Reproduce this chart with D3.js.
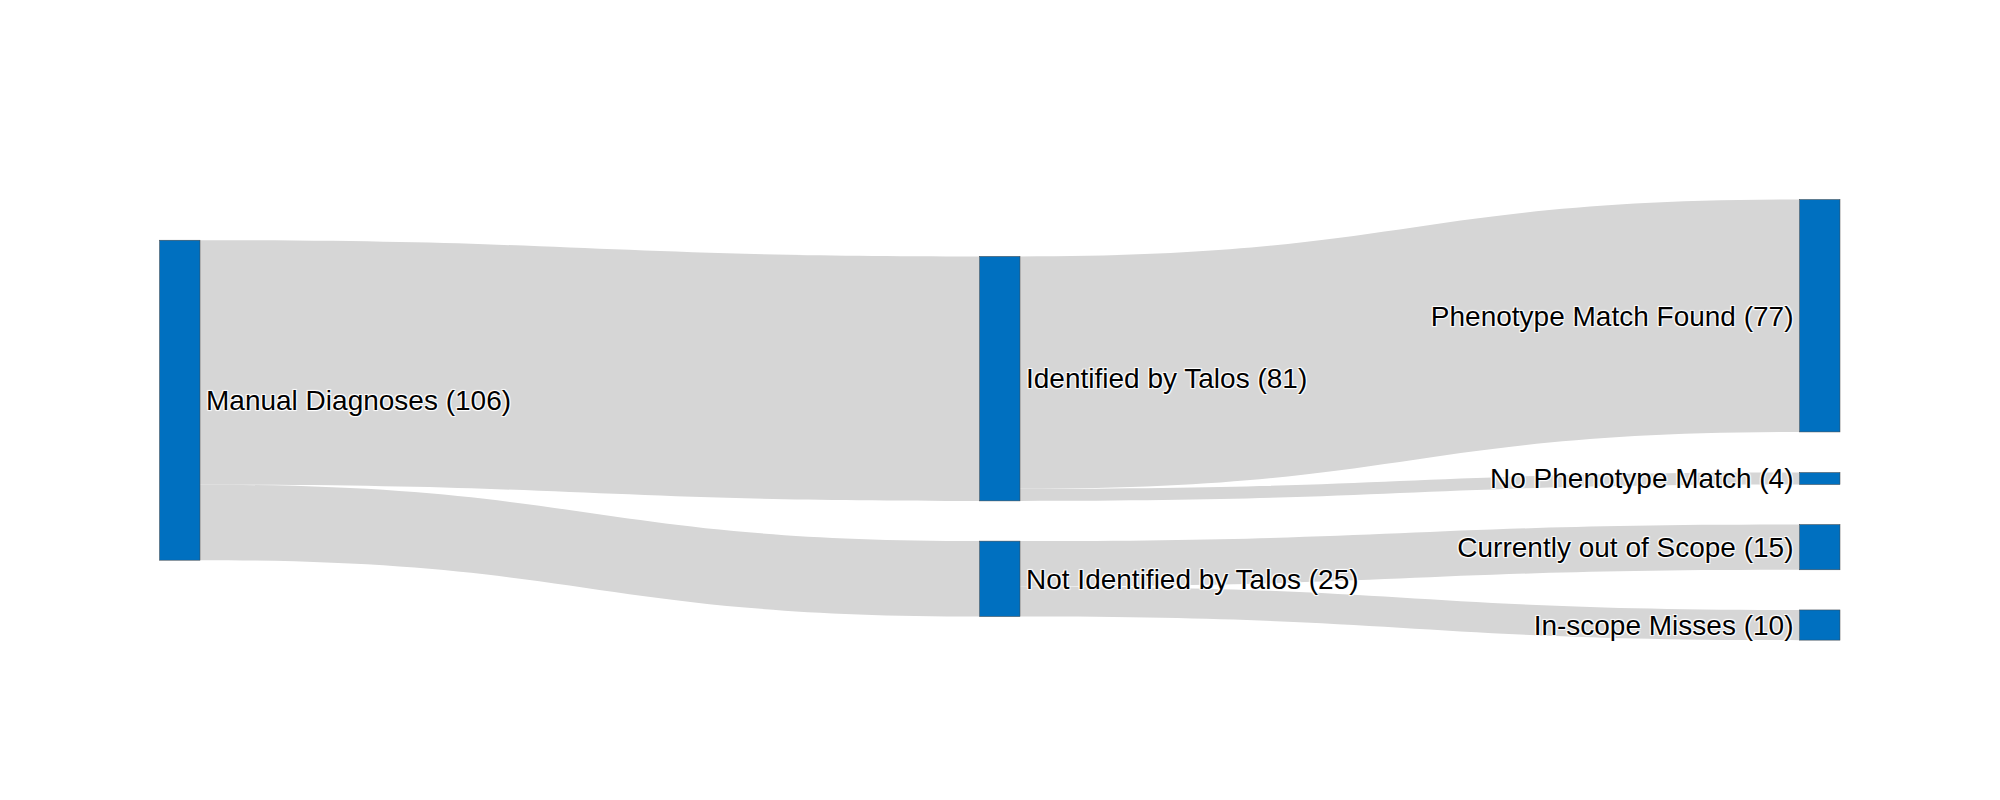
<!DOCTYPE html>
<html>
<head>
<meta charset="utf-8">
<script src="https://cdn.jsdelivr.net/npm/d3@7"></script>
<style>
  html, body { margin: 0; padding: 0; background: #fff; }
  svg { display: block; }
  .node-label {
    font-family: "Liberation Sans", Arial, sans-serif;
    font-size: 28px;
    fill: #000;
    text-shadow: 1px 1px 1px #fff, -1px -1px 1px #fff, 1px -1px 1px #fff, -1px 1px 1px #fff;
  }
</style>
</head>
<body>
<div id="chart"></div>
<script>
// ---- data ----
const nodeNames = [
  "Manual Diagnoses",
  "Identified by Talos",
  "Not Identified by Talos",
  "Phenotype Match Found",
  "No Phenotype Match",
  "Currently out of Scope",
  "In-scope Misses"
];
const nodeColumn = [0, 1, 1, 2, 2, 2, 2];
// node centre positions as a fraction of the plot height (like node.y in a fixed arrangement)
const nodeYFrac = [0.455, 0.406, 0.861, 0.263, 0.633, 0.789, 0.966];

const linkSource = [0, 0, 1, 1, 2, 2];
const linkTarget = [1, 2, 3, 4, 5, 6];
const linkValue  = [81, 25, 77, 4, 15, 10];

// ---- layout ----
const W = 2000, H = 800;
const margin = { left: 159.5, right: 160, top: 200, bottom: 160 };
const nodeWidth = 40.5, nodePad = 40;
const innerW = W - margin.left - margin.right;
const innerH = H - margin.top - margin.bottom;

const nodes = nodeNames.map((name, i) => ({
  index: i, name, col: nodeColumn[i], yf: nodeYFrac[i],
  sourceLinks: [], targetLinks: []
}));
const links = linkSource.map((s, i) => ({
  source: nodes[s], target: nodes[linkTarget[i]], value: linkValue[i]
}));
links.forEach(l => { l.source.sourceLinks.push(l); l.target.targetLinks.push(l); });
nodes.forEach(n => {
  n.value = Math.max(d3.sum(n.sourceLinks, l => l.value), d3.sum(n.targetLinks, l => l.value));
});

const columns = d3.groups(nodes, n => n.col).map(g => g[1]);
const ky = d3.min(columns, c => (innerH - (c.length - 1) * nodePad) / d3.sum(c, n => n.value));
const nCols = d3.max(nodeColumn) + 1;

const xScale = d3.scaleLinear().domain([0, nCols - 1]).range([margin.left, margin.left + innerW - nodeWidth]);
const yScale = d3.scaleLinear().domain([0, 1]).range([margin.top, margin.top + innerH]);

nodes.forEach(n => {
  n.x0 = xScale(n.col);
  n.x1 = n.x0 + nodeWidth;
  const h = n.value * ky;
  const c = yScale(n.yf);
  n.y0 = c - h / 2;
  n.y1 = c + h / 2;
});
// link offsets
nodes.forEach(n => {
  let y = n.y0;
  n.sourceLinks.sort((a, b) => a.target.y0 - b.target.y0).forEach(l => {
    l.width = l.value * ky; l.sy0 = y; y += l.width; l.sy1 = y;
  });
  y = n.y0;
  n.targetLinks.sort((a, b) => a.source.y0 - b.source.y0).forEach(l => {
    l.ty0 = y; y += l.value * ky; l.ty1 = y;
  });
});

function linkPath(l) {
  const x0 = l.source.x1, x1 = l.target.x0;
  const xi = d3.interpolateNumber(x0, x1);
  const x2 = xi(0.5), x3 = xi(0.5);
  const p = d3.path();
  p.moveTo(x0, l.sy0);
  p.bezierCurveTo(x2, l.sy0, x3, l.ty0, x1, l.ty0);
  p.lineTo(x1, l.ty1);
  p.bezierCurveTo(x3, l.ty1, x2, l.sy1, x0, l.sy1);
  p.closePath();
  return p.toString();
}

const svg = d3.select("#chart").append("svg")
  .attr("width", W).attr("height", H);

svg.append("g").selectAll("path").data(links).join("path")
  .attr("d", linkPath)
  .attr("fill", "#d6d6d6")
  .attr("stroke", "none");

svg.append("g").selectAll("rect").data(nodes).join("rect")
  .attr("x", d => d.x0).attr("y", d => d.y0)
  .attr("width", d => d.x1 - d.x0).attr("height", d => d.y1 - d.y0)
  .attr("fill", "#0070c0")
  .attr("stroke", "#444").attr("stroke-width", 0.5);

svg.append("g").selectAll("text").data(nodes).join("text")
  .attr("class", "node-label")
  .attr("x", d => d.col === nCols - 1 ? d.x0 - 6 : d.x1 + 6)
  .attr("y", d => (d.y0 + d.y1) / 2)
  .attr("dy", "0.35em")
  .attr("text-anchor", d => d.col === nCols - 1 ? "end" : "start")
  .text(d => `${d.name} (${d.value})`);
</script>
</body>
</html>
